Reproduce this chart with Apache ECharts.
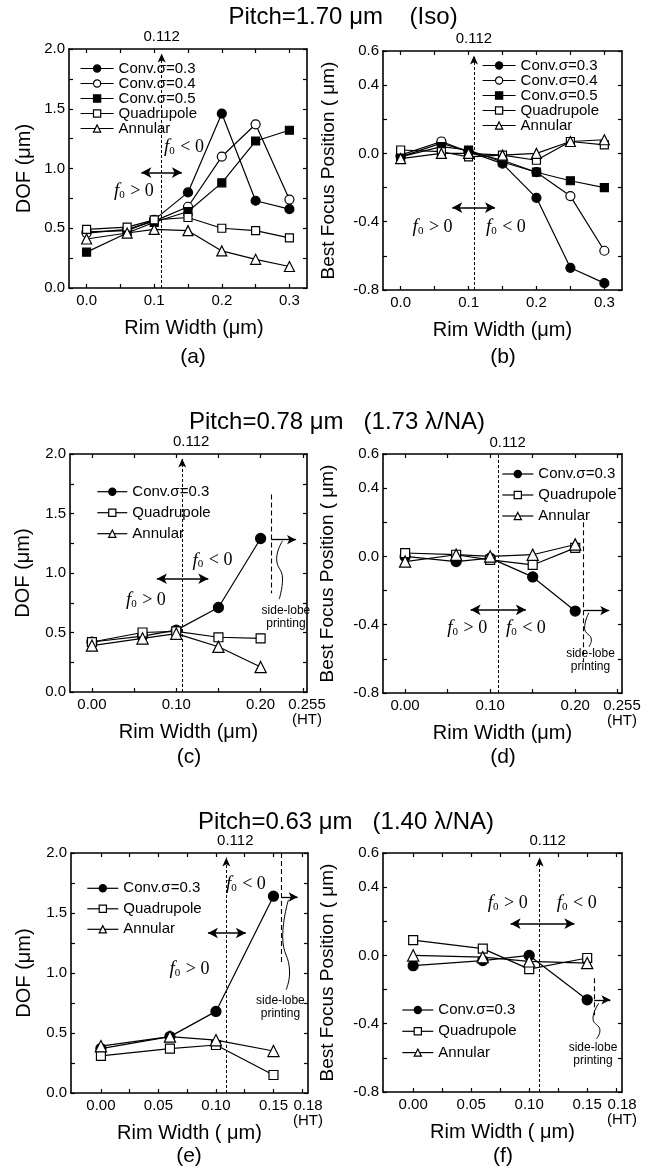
<!DOCTYPE html>
<html>
<head>
<meta charset="utf-8">
<script src="https://cdn.jsdelivr.net/npm/echarts@6.0.0/dist/echarts.min.js"></script>
<style>
  html, body { margin: 0; padding: 0; background: #fff; }
  #chart { width: 654px; height: 1174px; }
</style>
</head>
<body>
<div id="chart"></div>
<script>
const FONT = '"Liberation Sans", Arial, sans-serif';
const SERIF = '"Liberation Serif", "Times New Roman", serif';

// Pitch = 1.70 um (Iso): panels (a) and (b)
const rimAB = [0, 0.06, 0.10, 0.15, 0.20, 0.25, 0.30];
const dofA_conv03 = [0.47, 0.48, 0.57, 0.80, 1.46, 0.73, 0.66];
const dofA_conv04 = [0.46, 0.49, 0.56, 0.68, 1.10, 1.37, 0.74];
const dofA_conv05 = [0.30, 0.46, 0.55, 0.64, 0.88, 1.23, 1.32];
const dofA_quad = [0.49, 0.51, 0.57, 0.59, 0.50, 0.48, 0.42];
const dofA_ann = [0.41, 0.46, 0.49, 0.48, 0.31, 0.24, 0.18];
const bfB_conv03 = [-0.02, 0.06, 0.01, -0.06, -0.26, -0.67, -0.76];
const bfB_conv04 = [-0.01, 0.07, 0.01, -0.04, -0.11, -0.25, -0.57];
const bfB_conv05 = [-0.02, 0.04, 0.02, -0.05, -0.11, -0.16, -0.20];
const bfB_quad = [0.02, 0.01, -0.02, -0.01, -0.04, 0.07, 0.05];
const bfB_ann = [-0.03, 0.00, 0.00, -0.01, 0.00, 0.07, 0.08];

// Pitch = 0.78 um (1.73 lambda/NA): panels (c) and (d)
const rimCD = [0, 0.06, 0.10, 0.15, 0.20];
const dofC_conv03 = [0.42, 0.47, 0.52, 0.71, 1.29];
const dofC_quad = [0.42, 0.50, 0.51, 0.46, 0.45];
const dofC_ann = [0.39, 0.45, 0.49, 0.38, 0.21];
const bfD_conv03 = [0.00, -0.03, -0.01, -0.12, -0.32];
const bfD_quad = [0.02, 0.01, -0.02, -0.05, 0.05];
const bfD_ann = [-0.03, 0.01, 0.00, 0.01, 0.07];

// Pitch = 0.63 um (1.40 lambda/NA): panels (e) and (f)
const rimEF = [0, 0.06, 0.10, 0.15];
const dofE_conv03 = [0.37, 0.47, 0.68, 1.64];
const dofE_quad = [0.31, 0.37, 0.40, 0.15];
const dofE_ann = [0.39, 0.47, 0.44, 0.35];
const bfF_conv03 = [-0.06, -0.03, 0.00, -0.26];
const bfF_quad = [0.09, 0.04, -0.08, -0.015];
const bfF_ann = [0.00, -0.01, -0.035, -0.045];

// axis ticks and labels
const ticksAB = [0, 0.05, 0.10, 0.15, 0.20, 0.25, 0.30];
const labelsAB = [0, 0.1, 0.2, 0.3];
const ticksCD = [0, 0.05, 0.10, 0.15, 0.20, 0.25];
const labelsCD = [0, 0.1, 0.2, 0.255];
const ticksEF = [0, 0.025, 0.05, 0.075, 0.10, 0.125, 0.15, 0.175];
const labelsEF = [0, 0.05, 0.10, 0.15, 0.18];
const bfLabels = [-0.8, -0.4, 0, 0.4, 0.6];

const MARK = {
  'Conv.σ=0.3': ['circle', '#000', 9],
  'Conv.σ=0.4': ['circle', '#fff', 9],
  'Conv.σ=0.5': ['rect', '#000', 8],
  'Quadrupole': ['rect', '#fff', 8],
  'Annular': ['triangle', '#fff', 10]
};

const F0_RICH = {
  f: { fontFamily: SERIF, fontStyle: 'italic', fontSize: 19, color: '#000' },
  s: { fontFamily: SERIF, fontSize: 11, color: '#000', padding: [8, 1, 0, 0] },
  t: { fontFamily: SERIF, fontSize: 18, color: '#000' }
};

const fmtX = (digits, ht) => (v) =>
  ht !== undefined && Math.abs(v - ht) < 1e-9 ? `${ht}\n(HT)` : v.toFixed(digits);
const fmtDof = (v) => (Math.abs(v * 2 - Math.round(v * 2)) < 1e-6 ? v.toFixed(1) : '');
const fmtBf = (v) => (bfLabels.some((s) => Math.abs(s - v) < 1e-6) ? (Math.abs(v) < 1e-9 ? 0 : v).toFixed(1) : '');

const panels = [
  {
    box: [69, 49, 238, 239], kind: 'dof', xMin: -0.026, xMax: 0.326, ticks: ticksAB, labels: labelsAB, fmt: fmtX(1),
    rim: rimAB, symScale: 1, xName: 'Rim Width (μm)', namePad: [0, 0, 0, 12], yNameGap: 35,
    series: [['Conv.σ=0.3', dofA_conv03], ['Conv.σ=0.4', dofA_conv04], ['Conv.σ=0.5', dofA_conv05], ['Quadrupole', dofA_quad], ['Annular', dofA_ann]],
    legend: [78, 59, 33, 0, 14.6], legendBg: true,
    dash: { x: 0.111, arrow: true, off: 0 },
    arrow2: [[0.081, 0.966], [0.141, 0.966]], f0pos: [0.070, 0.81], f0neg: [0.144, 1.18]
  },
  {
    box: [383, 51, 239, 239], kind: 'bf', xMin: -0.026, xMax: 0.326, ticks: ticksAB, labels: labelsAB, fmt: fmtX(1),
    rim: rimAB, symScale: 1, xName: 'Rim Width (μm)', namePad: [0, 0, 0, 0], yNameGap: 45,
    series: [['Conv.σ=0.3', bfB_conv03], ['Conv.σ=0.4', bfB_conv04], ['Conv.σ=0.5', bfB_conv05], ['Quadrupole', bfB_quad], ['Annular', bfB_ann]],
    legend: [480, 56, 33, 0, 15], legendBg: false,
    dash: { x: 0.108, arrow: true, off: 0 },
    arrow2: [[0.076, -0.317], [0.139, -0.317]], f0pos: [0.047, -0.43], f0neg: [0.155, -0.43]
  },
  {
    box: [70, 454, 237, 238], kind: 'dof', xMin: -0.026, xMax: 0.255, ticks: ticksCD, labels: labelsCD, fmt: fmtX(2, 0.255),
    rim: rimCD, symScale: 1.12, xName: 'Rim Width (μm)', namePad: [0, 0, 0, 0], yNameGap: 37,
    series: [['Conv.σ=0.3', dofC_conv03], ['Quadrupole', dofC_quad], ['Annular', dofC_ann]],
    legend: [94.7, 481.7, 30, 5, 16], legendBg: true,
    dash: { x: 0.107, arrow: true, off: 9 },
    arrow2: [[0.077, 0.952], [0.138, 0.952]], f0pos: [0.064, 0.77], f0neg: [0.143, 1.105],
    side: { x: 0.2125, y: [1.66, 0.83], arrow: [[0.2125, 1.28], [0.242, 1.28]],
      curl: [[0.226, 1.27], [0.219, 1.12], [0.226, 0.95], [0.222, 0.78]], text: [0.23, 0.63] }
  },
  {
    box: [383, 454, 239, 239], kind: 'bf', xMin: -0.026, xMax: 0.255, ticks: ticksCD, labels: labelsCD, fmt: fmtX(2, 0.255),
    rim: rimCD, symScale: 1.12, xName: 'Rim Width (μm)', namePad: [0, 0, 0, 0], yNameGap: 46,
    series: [['Conv.σ=0.3', bfD_conv03], ['Quadrupole', bfD_quad], ['Annular', bfD_ann]],
    legend: [499.7, 464, 31, 5, 16], legendBg: false,
    dash: { x: 0.110, arrow: false, off: 9 },
    arrow2: [[0.077, -0.313], [0.142, -0.313]], f0pos: [0.073, -0.418], f0neg: [0.142, -0.418],
    side: { x: 0.21, y: [0.2, -0.62], arrow: [[0.21, -0.317], [0.240, -0.317]],
      curl: [[0.216, -0.33], [0.211, -0.42], [0.219, -0.49], [0.216, -0.53]], text: [0.218, -0.605] }
  },
  {
    box: [71, 853, 237, 240], kind: 'dof', xMin: -0.026, xMax: 0.18, ticks: ticksEF, labels: labelsEF, fmt: fmtX(2, 0.18),
    rim: rimEF, symScale: 1.12, xName: 'Rim Width ( μm)', namePad: [0, 0, 0, 0], yNameGap: 37,
    series: [['Conv.σ=0.3', dofE_conv03], ['Quadrupole', dofE_quad], ['Annular', dofE_ann]],
    legend: [84.7, 878.3, 31, 4.5, 16], legendBg: false,
    dash: { x: 0.109, arrow: true, off: 9 },
    arrow2: [[0.093, 1.333], [0.126, 1.333]], f0pos: [0.077, 1.03], f0neg: [0.126, 1.74],
    side: { x: 0.157, y: [2.0, 1.07], arrow: [[0.157, 1.633], [0.171, 1.633]],
      curl: [[0.163, 1.61], [0.158, 1.3], [0.164, 1.0], [0.161, 0.86]], text: [0.156, 0.715] }
  },
  {
    box: [383, 853, 239, 239], kind: 'bf', xMin: -0.026, xMax: 0.18, ticks: ticksEF, labels: labelsEF, fmt: fmtX(2, 0.18),
    rim: rimEF, symScale: 1.12, xName: 'Rim Width ( μm)', namePad: [0, 0, 0, 0], yNameGap: 46,
    series: [['Conv.σ=0.3', bfF_conv03], ['Quadrupole', bfF_quad], ['Annular', bfF_ann]],
    legend: [399.7, 1000, 31, 5.3, 16], legendBg: false,
    dash: { x: 0.109, arrow: true, off: 8 },
    arrow2: [[0.084, 0.186], [0.139, 0.186]], f0pos: [0.0815, 0.307], f0neg: [0.141, 0.307],
    side: { x: 0.156, y: [-0.133, -0.365], arrow: [[0.156, -0.26], [0.170, -0.26]],
      curl: [[0.16, -0.28], [0.155, -0.37], [0.161, -0.44], [0.158, -0.49]], text: [0.155, -0.577] }
  }
];

const option = {
  animation: false,
  backgroundColor: '#fff',
  grid: [], xAxis: [], yAxis: [], legend: [], series: [], graphic: []
};

const axisLine = { show: true, onZero: false, lineStyle: { color: '#000', width: 1.6 } };
const tick = { show: true, inside: true, length: 4, lineStyle: { color: '#000', width: 1.2 } };
const blankAxis = { show: false };

panels.forEach((p, i) => {
  const [left, top, width, height] = p.box;
  const isDof = p.kind === 'dof';
  const yMin = isDof ? 0 : -0.8;
  const yMax = isDof ? 2.0 : 0.6;
  const yStep = isDof ? 0.25 : 0.2;
  const pxPerY = height / (yMax - yMin);

  option.grid.push({ left, top, width, height, containLabel: false, outerBoundsMode: 'none' });

  option.xAxis.push({
    gridIndex: i, type: 'value', position: 'bottom', min: p.xMin, max: p.xMax,
    axisLine, splitLine: { show: false },
    axisTick: { ...tick, customValues: p.ticks },
    axisLabel: { customValues: p.labels, formatter: p.fmt, color: '#000', fontSize: 15, fontFamily: FONT, margin: 5, lineHeight: 15 },
    name: p.xName, nameLocation: 'middle', nameGap: 30, nameMoveOverlap: false,
    nameTextStyle: { color: '#000', fontSize: 20, fontFamily: FONT, padding: p.namePad }
  });
  option.xAxis.push({
    gridIndex: i, type: 'value', position: 'top', min: p.xMin, max: p.xMax,
    axisLine, splitLine: { show: false },
    axisTick: { ...tick, customValues: p.ticks }, axisLabel: blankAxis
  });
  option.yAxis.push({
    gridIndex: i, type: 'value', position: 'left', min: yMin, max: yMax, interval: yStep,
    axisLine, axisTick: tick, splitLine: { show: false },
    axisLabel: { formatter: isDof ? fmtDof : fmtBf, color: '#000', fontSize: 15, fontFamily: FONT, margin: 4, showMinLabel: true, showMaxLabel: true },
    name: isDof ? 'DOF (μm)' : 'Best Focus Position ( μm)', nameLocation: 'middle', nameGap: p.yNameGap, nameMoveOverlap: false,
    nameTextStyle: { color: '#000', fontSize: isDof ? 20 : 19, fontFamily: FONT }
  });
  option.yAxis.push({
    gridIndex: i, type: 'value', position: 'right', min: yMin, max: yMax, interval: yStep,
    axisLine, axisTick: tick, splitLine: { show: false }, axisLabel: blankAxis
  });

  // annotation lines
  const lineData = [];
  const dashTop = yMax - (p.dash.arrow ? 4.5 : 0) / pxPerY;
  lineData.push([
    { coord: [p.dash.x, yMin], symbol: 'none', lineStyle: { type: [3, 2], width: 1, color: '#000' } },
    {
      coord: [p.dash.x, dashTop], symbol: p.dash.arrow ? 'arrow' : 'none', symbolSize: [6, 9],
      label: { show: true, position: 'end', formatter: '0.112', distance: p.dash.arrow ? 9 : 4, offset: [p.dash.off, 0], color: '#000', fontSize: 15, fontFamily: FONT }
    }
  ]);
  lineData.push([
    { coord: p.arrow2[0], symbol: 'arrow', symbolSize: [8, 10], lineStyle: { type: 'solid', width: 1.6, color: '#000' } },
    { coord: p.arrow2[1], symbol: 'arrow', symbolSize: [8, 10] }
  ]);
  const points = [
    { coord: p.f0pos, label: { formatter: '{f|f}{s|0}{t| > 0}', rich: F0_RICH } },
    { coord: p.f0neg, label: { formatter: '{f|f}{s|0}{t| < 0}', rich: F0_RICH } }
  ];
  if (p.side) {
    lineData.push([
      { coord: [p.side.x, p.side.y[0]], symbol: 'none', lineStyle: { type: [5, 3], width: 1.1, color: '#000' } },
      { coord: [p.side.x, p.side.y[1]], symbol: 'none' }
    ]);
    lineData.push([
      { coord: p.side.arrow[0], symbol: 'none', lineStyle: { type: 'solid', width: 1.3, color: '#000' } },
      { coord: p.side.arrow[1], symbol: 'arrow', symbolSize: [7, 9] }
    ]);
    points.push({
      coord: p.side.text,
      label: { formatter: 'side-lobe\nprinting', fontSize: 12, lineHeight: 13, fontFamily: FONT, color: '#000' }
    });
  }

  p.series.forEach(([name, ys], k) => {
    const [symbol, fill, size] = MARK[name];
    const s = {
      name, type: 'line', xAxisIndex: 2 * i, yAxisIndex: 2 * i,
      data: p.rim.map((x, j) => [x, ys[j]]),
      symbol, symbolSize: size * p.symScale, showAllSymbol: true,
      lineStyle: { color: '#000', width: 1.2 },
      itemStyle: { color: fill, borderColor: '#000', borderWidth: 1.2 },
      emphasis: { disabled: true }, z: 3
    };
    if (k === 0) {
      s.markLine = {
        silent: true, animation: false, symbol: ['none', 'none'],
        label: { show: false }, lineStyle: { color: '#000' }, emphasis: { disabled: true },
        data: lineData
      };
      s.markPoint = {
        silent: true, animation: false, symbol: 'rect', symbolSize: 1,
        itemStyle: { color: 'rgba(0,0,0,0)' },
        label: { show: true, position: 'inside', color: '#000' },
        data: points
      };
    }
    option.series.push(s);
  });

  if (p.side) {
    option.series.push({
      name: 'curl-' + i, type: 'line', xAxisIndex: 2 * i, yAxisIndex: 2 * i, smooth: true,
      symbol: 'none', silent: true, data: p.side.curl,
      lineStyle: { color: '#000', width: 1 }, emphasis: { disabled: true }
    });
  }

  const [lgLeft, lgTop, itemWidth, itemGap, lineHeight] = p.legend;
  option.legend.push({
    orient: 'vertical', left: lgLeft, top: lgTop, itemWidth, itemHeight: 9, itemGap,
    padding: [2, 3, 2, 2], backgroundColor: p.legendBg ? '#fff' : 'transparent',
    selectedMode: false, data: p.series.map((s) => s[0]),
    itemStyle: { borderWidth: 1.2 }, lineStyle: { width: 1.2 },
    textStyle: { fontSize: 15, color: '#000', fontFamily: FONT, lineHeight }
  });
});

const texts = [
  ['Pitch=1.70 μm    (Iso)', 343, 17, 24],
  ['Pitch=0.78 μm   (1.73 λ/NA)', 337, 422, 24],
  ['Pitch=0.63 μm   (1.40 λ/NA)', 346, 822, 24],
  ['(a)', 193, 357, 21], ['(b)', 503, 357, 21],
  ['(c)', 189, 757, 21], ['(d)', 503, 757, 21],
  ['(e)', 189, 1156, 21], ['(f)', 503, 1156, 21]
];
texts.forEach(([text, x, y, size]) => {
  option.graphic.push({
    type: 'text', x, y, silent: true,
    style: {
      text, fill: '#000', font: `${size}px ${FONT}`,
      align: 'center', verticalAlign: 'middle', textAlign: 'center', textVerticalAlign: 'middle'
    }
  });
});

const chart = echarts.init(document.getElementById('chart'), null, { renderer: 'canvas' });
chart.setOption(option);
</script>
</body>
</html>
